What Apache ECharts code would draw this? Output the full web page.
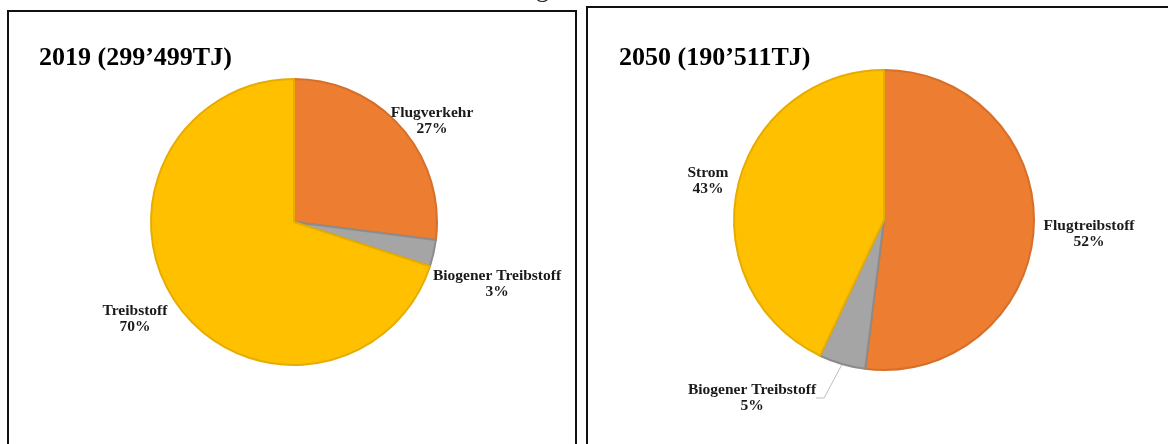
<!DOCTYPE html>
<html>
<head>
<meta charset="utf-8">
<style>
  html, body { margin: 0; padding: 0; background: #fff; }
  #chart { width: 1168px; height: 444px; }
</style>
<script src="https://cdn.jsdelivr.net/npm/echarts@6/dist/echarts.min.js"></script>
</head>
<body>
<div id="chart"></div>
<script>
// data
var names2019 = ["Flugverkehr", "Biogener Treibstoff", "Treibstoff"];
var values2019 = [27, 3, 70];
var names2050 = ["Flugtreibstoff", "Biogener Treibstoff", "Strom"];
var values2050 = [52, 5, 43];
var titles = ["2019 (299’499TJ)", "2050 (190’511TJ)"];

// label spots (layout only)
var labelPos2019 = [[432, 121], [497, 284], [135, 319]];
var labelPos2050 = [[1089, 234], [752, 398], [708, 181]];

var fillColors = {
  "Flugverkehr": "#ED7D31",
  "Flugtreibstoff": "#ED7D31",
  "Biogener Treibstoff": "#A5A5A5",
  "Treibstoff": "#FFC000",
  "Strom": "#FFC000"
};
var edgeColors = {
  "Flugverkehr": "#D66F29",
  "Flugtreibstoff": "#D66F29",
  "Biogener Treibstoff": "#8C8C8C",
  "Treibstoff": "#E6AC00",
  "Strom": "#E6AC00"
};

function buildData(names, values, lineIdx) {
  return names.map(function (n, i) {
    return {
      name: n,
      value: values[i],
      itemStyle: { color: fillColors[n], borderColor: edgeColors[n], borderWidth: 2 },
      labelLine: { show: i === lineIdx }
    };
  });
}

var labelStyle = {
  show: true,
  formatter: "{b}\n{d}%",
  fontFamily: "Liberation Serif",
  fontWeight: "bold",
  fontSize: 15.5,
  lineHeight: 16,
  color: "#1a1a1a",
  align: "center"
};

var titleStyle = { fontFamily: "Liberation Serif", fontWeight: "bold", fontSize: 26, color: "#000" };

var myChart = echarts.init(document.getElementById("chart"), null, { renderer: "canvas" });

var option = {
  animation: false,
  title: [
    { text: titles[0], left: 34, top: 40, textStyle: titleStyle },
    { text: titles[1], left: 614, top: 40, textStyle: titleStyle }
  ],
  graphic: [
    { type: "text", left: 536, top: -23, style: { text: "g", font: "26px 'Liberation Serif'", fill: "#222" } },
    { type: "rect", shape: { x: 8, y: 11, width: 568, height: 460 }, style: { fill: null, stroke: "#111", lineWidth: 2 }, z: -1 },
    { type: "rect", shape: { x: 587, y: 7, width: 620, height: 460 }, style: { fill: null, stroke: "#111", lineWidth: 2 }, z: -1 }
  ],
  series: [
    {
      type: "pie",
      center: [294, 222],
      radius: [0, 143],
      startAngle: 90,
      clockwise: true,
      data: buildData(names2019, values2019, -1),
      label: labelStyle,
      labelLine: { show: false },
      labelLayout: function (p) {
        var pos = labelPos2019[p.dataIndex];
        return { x: pos[0], y: pos[1], align: "center", verticalAlign: "middle" };
      },
      emphasis: { disabled: true }
    },
    {
      type: "pie",
      center: [884, 220],
      radius: [0, 150],
      startAngle: 90,
      clockwise: true,
      data: buildData(names2050, values2050, 1),
      label: labelStyle,
      labelLine: { show: false, lineStyle: { color: "#BDBDBD", width: 1 }, length: 10, length2: 8 },
      labelLayout: function (p) {
        var pos = labelPos2050[p.dataIndex];
        return { x: pos[0], y: pos[1], align: "center", verticalAlign: "middle" };
      },
      emphasis: { disabled: true }
    }
  ]
};

myChart.setOption(option);
window.addEventListener("resize", function () {
  myChart.resize();
});
</script>
</body>
</html>
